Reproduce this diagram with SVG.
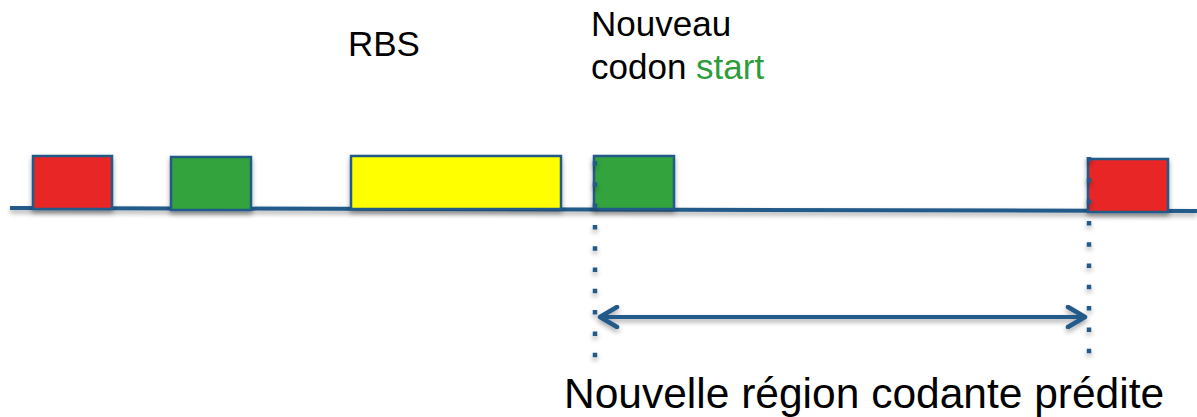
<svg xmlns="http://www.w3.org/2000/svg" width="1197" height="417" viewBox="0 0 1197 417">
<defs>
<filter id="sh" filterUnits="userSpaceOnUse" x="0" y="0" width="1197" height="417">
<feDropShadow dx="0" dy="3" stdDeviation="2.5" flood-color="#000" flood-opacity="0.35"/>
</filter>
<marker id="ah" viewBox="0 0 24 24" refX="20" refY="12" markerWidth="24" markerHeight="24" markerUnits="userSpaceOnUse" orient="auto-start-reverse">
<path d="M3 2 L20 12 L3 22" fill="none" stroke="#215a8a" stroke-width="4.5" stroke-linecap="round" stroke-linejoin="round"/>
</marker>
<style>
.box{stroke:#215a8a;stroke-width:2.5}
.lbl{font-family:"Liberation Sans",Arial,sans-serif;fill:#000}
.dot{stroke:#215a8a;stroke-width:4.5;stroke-dasharray:4.5 16.8;fill:none}
</style>
</defs>
<g id="baseline">
<line x1="10" y1="208" x2="1197" y2="211" stroke="#215a8a" stroke-width="4" filter="url(#sh)"/>
</g>
<g id="stop1"><rect class="box" x="33" y="156" width="79" height="53" fill="#e82526" filter="url(#sh)"/></g>
<g id="start1"><rect class="box" x="171" y="157" width="80" height="53" fill="#33a33d" filter="url(#sh)"/></g>
<g id="rbs"><rect class="box" x="351" y="156" width="210" height="53" fill="#ffff00" filter="url(#sh)"/>
<text class="lbl" x="348" y="56" font-size="35">RBS</text></g>
<g id="start2"><rect class="box" x="594" y="156" width="80" height="53" fill="#33a33d" filter="url(#sh)"/>
<text class="lbl" x="591" y="36" font-size="35">Nouveau</text>
<text class="lbl" x="591" y="79" font-size="35">codon <tspan fill="#2e9c3a">start</tspan></text></g>
<g id="stop2"><rect class="box" x="1088" y="159" width="80" height="53" fill="#e82526" filter="url(#sh)"/></g>
<g id="region"><text class="lbl" x="564" y="408" font-size="42.5">Nouvelle région codante prédite</text></g>
<g id="connectors">
<line class="dot" x1="595" y1="161" x2="595" y2="360" filter="url(#sh)"/>
<line class="dot" x1="1089" y1="157" x2="1089" y2="360" filter="url(#sh)"/>
<line x1="600" y1="317" x2="1085" y2="317" stroke="#215a8a" stroke-width="4" marker-start="url(#ah)" marker-end="url(#ah)" filter="url(#sh)"/>
</g>
</svg>
